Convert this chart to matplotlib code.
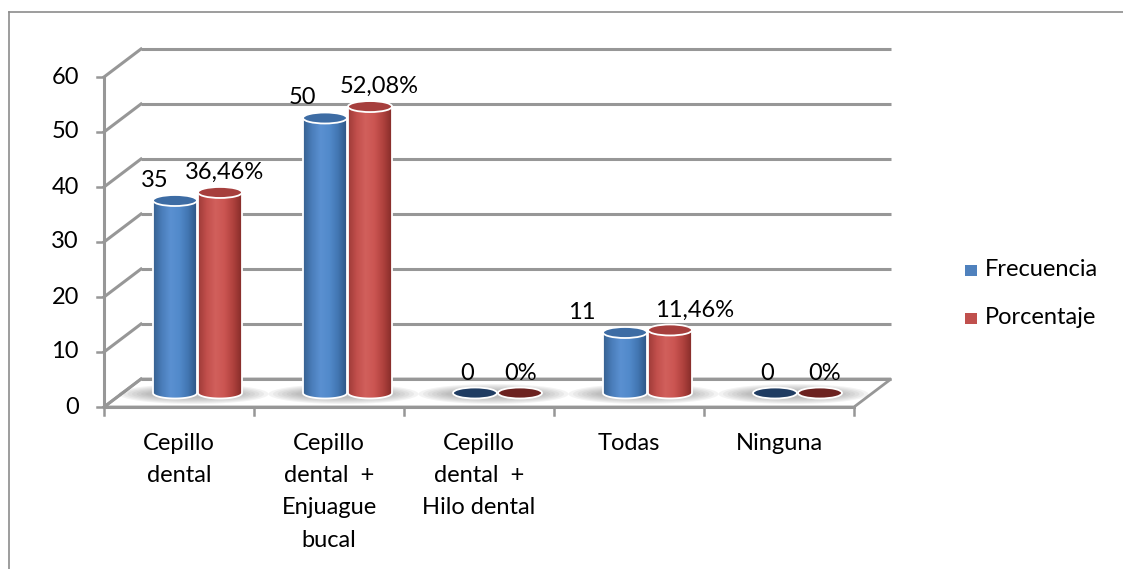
import numpy as np
import matplotlib.pyplot as plt
from matplotlib.patches import Ellipse, Polygon, PathPatch, Rectangle
from matplotlib.path import Path
from matplotlib.lines import Line2D
from matplotlib.colors import LinearSegmentedColormap

# data
categorias = ["Cepillo\ndental", "Cepillo\ndental  +\nEnjuague\nbucal",
              "Cepillo\ndental  +\nHilo dental", "Todas", "Ninguna"]
frecuencia = [35, 50, 0, 11, 0]
porcentaje = [36.46, 52.08, 0, 11.46, 0]
etiq_frec = ["35", "50", "0", "11", "0"]
etiq_porc = ["36,46%", "52,08%", "0%", "11,46%", "0%"]
y_ticks = [0, 10, 20, 30, 40, 50, 60]
series = ["Frecuencia", "Porcentaje"]

plt.rcParams['font.family'] = ['Lato', 'DejaVu Sans']
FS = 17

# pixel scale of the axes (one category = 150 px, one unit = 5.5 px)
W, H = 1123, 569
X0, Y0 = 104, 407
PXX, PXY = 150.0, 5.5
def px(n): return n / PXX
def py(n): return n / PXY
DX, DY = px(37), py(28)       # depth of the 3d box
GRID = '#979797'

fig = plt.figure(figsize=(W / 100, H / 100), dpi=100)
ax = fig.add_axes([0, 0, 1, 1])
ax.set_xlim(-X0 / PXX, (W - X0) / PXX)
ax.set_ylim((Y0 - H) / PXY, Y0 / PXY)
ax.axis('off')

n = len(categorias)

# floor
ax.add_patch(Polygon([(0, 0), (n, 0), (n + DX, DY), (DX, DY)], closed=True,
                     facecolor='white', edgecolor=GRID, lw=2.0, zorder=1))
# back wall and side wall gridlines
for v in y_ticks:
    ax.plot([DX, n + DX], [v + DY, v + DY], color=GRID, lw=2.2, zorder=1,
            solid_capstyle='butt')
    ax.plot([0, DX], [v, v + DY], color=GRID, lw=2.2, zorder=1)
    ax.plot([-px(7), 0], [v, v], color=GRID, lw=1.8, zorder=2)
    ax.text(-px(25), v, str(v), ha='right', va='center', fontsize=FS)
ax.plot([0, 0], [0, y_ticks[-1]], color=GRID, lw=2.2, zorder=2)
ax.plot([0, n], [0, 0], color=GRID, lw=2.2, zorder=2)
for i in range(n + 1):
    ax.plot([i, i], [0, -py(8)], color=GRID, lw=1.8, zorder=2)

cmap_b = LinearSegmentedColormap.from_list('b', ['#36608F', '#4A7DBA', '#5A90D1',
                                                 '#528ACB', '#4276B2', '#2E5583'])
cmap_r = LinearSegmentedColormap.from_list('r', ['#9E3B38', '#C24F4C', '#D1605C',
                                                 '#CB5552', '#B0423E', '#852C29'])
grad = np.linspace(0, 1, 200)[None, :]

w = px(44)
eh = py(11)
zc = DY / 2


def shadow(cx):
    for k in range(7):
        ax.add_patch(Ellipse((cx - px(4), zc - py(1)), px(150 - 9 * k), py(20 - 2 * k),
                             facecolor='#707070', edgecolor='none', alpha=0.08, zorder=3))


def cylinder(cx, h, cmap, top, flat):
    xl, xr = cx - w / 2, cx + w / 2
    if h <= 0:
        ax.add_patch(Ellipse((cx, zc), w, eh, facecolor=flat, edgecolor='white',
                             lw=1.3, zorder=5))
        return
    t = np.linspace(np.pi, 2 * np.pi, 40)
    verts = [(xl, zc + h)] + list(zip(cx + w / 2 * np.cos(t), zc + eh / 2 * np.sin(t))) \
        + [(xr, zc + h), (xl, zc + h)]
    path = Path(verts)
    body = PathPatch(path, facecolor='none', edgecolor='none', transform=ax.transData)
    ax.add_patch(body)
    im = ax.imshow(grad, cmap=cmap, extent=(xl, xr, zc - eh / 2, zc + h),
                   aspect='auto', zorder=4, interpolation='bilinear')
    im.set_clip_path(body)
    ax.add_patch(PathPatch(path, facecolor='none', edgecolor='white', lw=1.3, zorder=5))
    ax.add_patch(Ellipse((cx, zc + h), w, eh, facecolor=top, edgecolor='white',
                         lw=1.3, zorder=6))


off_b = [-20, -23, -8, -43, -8]
off_r = [5, 9, 1, 25, 5]
for i in range(n):
    cx = i + 0.5 + DX / 2
    shadow(cx)
    bx, rx = cx - px(22.5), cx + px(22.5)
    cylinder(bx, frecuencia[i], cmap_b, '#3D6CA4', '#1F3C62')
    cylinder(rx, porcentaje[i], cmap_r, '#A63F3D', '#6C2220')
    ax.text(bx + px(off_b[i]), zc + frecuencia[i] + py(20), etiq_frec[i],
            ha='center', va='center', fontsize=FS, zorder=7)
    ax.text(rx + px(off_r[i]), zc + porcentaje[i] + py(20), etiq_porc[i],
            ha='center', va='center', fontsize=FS, zorder=7)
    ax.text(i + 0.5, -py(26), categorias[i], ha='center', va='top',
            fontsize=FS, linespacing=1.66, multialignment='center')

ax.set_xlim(-X0 / PXX, (W - X0) / PXX)
ax.set_ylim((Y0 - H) / PXY, Y0 / PXY)

# legend
for k, (name, col) in enumerate(zip(series, ['#4F81BD', '#C0504D'])):
    yc = 270 + 48 * k
    fig.add_artist(Rectangle((965 / W, 1 - (yc + 6) / H), 12 / W, 11 / H,
                             transform=fig.transFigure, facecolor=col, edgecolor='none'))
    fig.text(985 / W, 1 - yc / H, name, va='center', ha='left', fontsize=FS)

# outer frame
fig.add_artist(Line2D([9 / W, 9 / W], [0, 1 - 12 / H], color='#8C8C8C', lw=1.2))
fig.add_artist(Line2D([9 / W, 1], [1 - 12 / H, 1 - 12 / H], color='#8C8C8C', lw=1.2))

fig.savefig('out.png', dpi=100)
